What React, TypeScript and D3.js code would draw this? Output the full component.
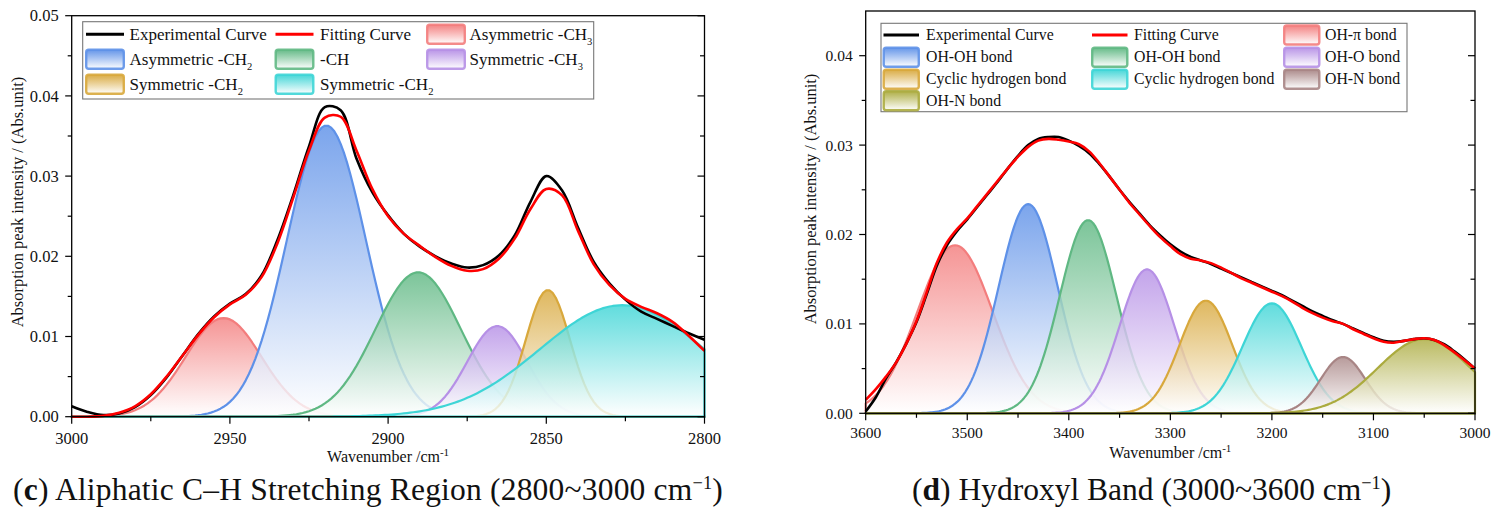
import React from "react";
import * as d3 from "d3";

const FONT = '"Liberation Serif", "Times New Roman", Times, serif';

// ---------------- Panel (c): Aliphatic C–H stretching ----------------
const cWavenumbers = [
  3000, 2995, 2990, 2985, 2980, 2975, 2970, 2965, 2960, 2955, 2950, 2945, 2940, 2935,
  2930, 2925, 2920, 2915, 2910, 2905, 2900, 2895, 2890, 2885, 2880, 2875, 2870, 2865,
  2860, 2855, 2850, 2845, 2840, 2835, 2830, 2825, 2820, 2815, 2810, 2805, 2800,
];
const cExperimental = [
  0.0013, 0.0006, 0.0002, 0.0004, 0.0012, 0.0027, 0.0049, 0.0076, 0.0103, 0.0125, 0.0141,
  0.0153, 0.0176, 0.022, 0.0276, 0.0337, 0.0386, 0.0382, 0.0322, 0.028, 0.0251, 0.0228,
  0.0212, 0.02, 0.0191, 0.0186, 0.0189, 0.0201, 0.0226, 0.0268, 0.03, 0.0282, 0.0236,
  0.0193, 0.0166, 0.0146, 0.0131, 0.0122, 0.0113, 0.0104, 0.0096,
];
const cFitting = [
  0.0, 0.0, 0.0001, 0.0005, 0.0013, 0.0028, 0.005, 0.0076, 0.0102, 0.0124, 0.014, 0.0152,
  0.0174, 0.0216, 0.0273, 0.0332, 0.0373, 0.0374, 0.0332, 0.0284, 0.025, 0.0228, 0.0213,
  0.0199, 0.0188, 0.0182, 0.0184, 0.0197, 0.0222, 0.0259, 0.0284, 0.0276, 0.0232, 0.019,
  0.0164, 0.0147, 0.0137, 0.0129, 0.0118, 0.0101, 0.0082,
];
const cPeakNames = [
  "Asymmetric -CH₃",
  "Asymmetric -CH₂",
  "-CH",
  "Symmetric -CH₃",
  "Symmetric -CH₂",
  "Symmetric -CH₂",
];
const cPeakCenters = [2952, 2919.5, 2890.5, 2865.5, 2849.5, 2826];
const cPeakHeights = [0.0123, 0.0363, 0.018, 0.0113, 0.0158, 0.0139];
const cPeakSigmas = [12, 12.5, 13.5, 9.5, 7, 26];
const cXTicks = [3000, 2950, 2900, 2850, 2800];
const cYTicks = [0, 0.01, 0.02, 0.03, 0.04, 0.05];

// ---------------- Panel (d): Hydroxyl band ----------------
const dWavenumbers = [
  3600, 3590, 3580, 3570, 3560, 3550, 3540, 3530, 3520, 3510, 3500, 3490, 3480, 3470, 3460,
  3450, 3440, 3430, 3420, 3410, 3400, 3390, 3380, 3370, 3360, 3350, 3340, 3330, 3320, 3310,
  3300, 3290, 3280, 3270, 3260, 3250, 3240, 3230, 3220, 3210, 3200, 3190, 3180, 3170, 3160,
  3150, 3140, 3130, 3120, 3110, 3100, 3090, 3080, 3070, 3060, 3050, 3040, 3030, 3020, 3010,
  3000,
];
const dExperimental = [
  0.0002, 0.0018, 0.0039, 0.0057, 0.0078, 0.0102, 0.0133, 0.0165, 0.0188, 0.0204, 0.0217,
  0.0231, 0.0245, 0.0259, 0.0274, 0.0288, 0.03, 0.0307, 0.0309, 0.0309, 0.0305, 0.0299,
  0.0291, 0.0279, 0.0265, 0.025, 0.0236, 0.0223, 0.021, 0.0199, 0.0189, 0.0181, 0.0175,
  0.0171, 0.0167, 0.0162, 0.0157, 0.0152, 0.0147, 0.0142, 0.0137, 0.0132, 0.0126, 0.012,
  0.0114, 0.0109, 0.0104, 0.01, 0.0095, 0.009, 0.0085, 0.0081, 0.008, 0.0081, 0.0083,
  0.0084, 0.0082, 0.0077, 0.0069, 0.006, 0.005,
];
const dFitting = [
  0.0015, 0.0027, 0.0041, 0.0057, 0.0078, 0.0103, 0.0135, 0.0168, 0.0191, 0.0206, 0.0218,
  0.0232, 0.0246, 0.026, 0.0274, 0.0287, 0.0298, 0.0305, 0.0307, 0.0306, 0.0304, 0.0301,
  0.0293, 0.028, 0.0265, 0.025, 0.0235, 0.0222, 0.0209, 0.0197, 0.0187, 0.0178, 0.0173,
  0.0171, 0.0168, 0.0163, 0.0157, 0.0151, 0.0146, 0.0141, 0.0136, 0.0131, 0.0125, 0.0118,
  0.0112, 0.0107, 0.0103, 0.01, 0.0094, 0.0089, 0.0084, 0.008, 0.0079, 0.0081, 0.0083,
  0.0084, 0.0082, 0.0076, 0.0068, 0.0059, 0.005,
];
const dPeakNames = [
  "OH-π bond",
  "OH-OH bond",
  "OH-OH bond",
  "OH-O bond",
  "Cyclic hydrogen bond",
  "Cyclic hydrogen bond",
  "OH-N bond",
  "OH-N bond",
];
const dPeakCenters = [3512, 3440, 3381, 3323, 3265, 3200, 3130, 3050];
const dPeakHeights = [0.0188, 0.0234, 0.0216, 0.0161, 0.0126, 0.0123, 0.0063, 0.0083];
const dPeakSigmas = [37, 29, 28, 27, 26, 29, 22, 46];
const dXTicks = [3600, 3500, 3400, 3300, 3200, 3100, 3000];
const dYTicks = [0, 0.01, 0.02, 0.03, 0.04];

const SERIES_NAMES = ["Experimental Curve", "Fitting Curve"];

// ---------------- styles ----------------
const cPeakColors = ["#F37D7D", "#5E91E8", "#5FB883", "#B690E6", "#D8A83C", "#3ED5D6"];
const dPeakColors = [
  "#F37D7D",
  "#5E91E8",
  "#5FB883",
  "#B690E6",
  "#D8A83C",
  "#3ED5D6",
  "#A88585",
  "#ABAB3E",
];

type Legend = {
  box: [number, number, number, number];
  rows: number[];
  swX: number[];
  swW: number;
  swH: number;
  textX: number[];
  font: number;
};

type PanelCfg = {
  id: string;
  wStart: number;
  wEnd: number;
  step: number;
  yMax: number;
  plot: { x0: number; x1: number; y0: number; y1: number };
  xTicks: number[];
  yTicks: number[];
  tickFont: number;
  xLabelDy: number;
  xTitleDy: number;
  yLabelGap: number;
  yTitle: { x: number; y: number; font: number };
  waves: number[];
  experimental: number[];
  fitting: number[];
  names: string[];
  centers: number[];
  heights: number[];
  sigmas: number[];
  colors: string[];
  legend: Legend;
  caption: { x: number; y: number; letter: string; text: string; font: number; spacing: number };
};

const SUBS: Record<string, string> = { "₂": "2", "₃": "3" };

function LabelText({ text, x, y, size }: { text: string; x: number; y: number; size: number }) {
  const last = text.slice(-1);
  if (SUBS[last]) {
    return (
      <text x={x} y={y} fontSize={size} fontFamily={FONT} fill="#111">
        {text.slice(0, -1)}
        <tspan dy={size * 0.3} fontSize={size * 0.62}>
          {SUBS[last]}
        </tspan>
      </text>
    );
  }
  return (
    <text x={x} y={y} fontSize={size} fontFamily={FONT} fill="#111">
      {text}
    </text>
  );
}

function Panel({ cfg }: { cfg: PanelCfg }) {
  const { plot } = cfg;
  const x = d3.scaleLinear().domain([cfg.wStart, cfg.wEnd]).range([plot.x0, plot.x1]);
  const y = d3.scaleLinear().domain([0, cfg.yMax]).range([plot.y1, plot.y0]);
  const n = Math.round(Math.abs(cfg.wStart - cfg.wEnd) / cfg.step);
  const grid = d3.range(0, n + 1).map((i) => cfg.wStart - i * cfg.step);

  const area = d3
    .area<[number, number]>()
    .x((d) => x(d[0]))
    .y0(y(0))
    .y1((d) => y(d[1]));
  const line = d3
    .line<[number, number]>()
    .x((d) => x(d[0]))
    .y((d) => y(d[1]))
    .curve(d3.curveCatmullRom.alpha(0.5));

  const peaks = cfg.centers.map((c, i) => {
    const h = cfg.heights[i];
    const s = cfg.sigmas[i];
    return grid.map((w) => [w, h * Math.exp(-((w - c) * (w - c)) / (2 * s * s))] as [number, number]);
  });
  const expPts = cfg.waves.map((w, i) => [w, cfg.experimental[i]] as [number, number]);
  const fitPts = cfg.waves.map((w, i) => [w, cfg.fitting[i]] as [number, number]);

  const yStep = cfg.yTicks[1] - cfg.yTicks[0];
  const yMinor = cfg.yTicks.map((t) => t + yStep / 2).filter((t) => t < cfg.yMax - 1e-9);
  const xStep = cfg.xTicks[0] - cfg.xTicks[1];
  const xMinor = cfg.xTicks.slice(0, -1).map((t) => t - xStep / 2);
  const fmt = d3.format(".2f");

  const lg = cfg.legend;
  const entries = [
    ...SERIES_NAMES.map((name, i) => ({ name, kind: "line", color: i === 0 ? "#000" : "#ff0000", idx: -1 })),
    ...cfg.names.map((name, i) => ({ name, kind: "swatch", color: cfg.colors[i], idx: i })),
  ];

  return (
    <g>
      <defs>
        {cfg.colors.map((col, i) => (
          <linearGradient key={i} id={`${cfg.id}-g${i}`} x1="0" y1="0" x2="0" y2="1">
            <stop offset="0" stopColor={col} stopOpacity={0.82} />
            <stop offset="1" stopColor="#ffffff" stopOpacity={0.82} />
          </linearGradient>
        ))}
        {cfg.colors.map((col, i) => (
          <linearGradient key={`l${i}`} id={`${cfg.id}-lg${i}`} x1="0" y1="0" x2="0" y2="1">
            <stop offset="0" stopColor={col} stopOpacity={0.95} />
            <stop offset="1" stopColor="#ffffff" stopOpacity={1} />
          </linearGradient>
        ))}
      </defs>

      {peaks.map((pts, i) => (
        <path
          key={i}
          d={area(pts) || ""}
          fill={`url(#${cfg.id}-g${i})`}
          stroke={cfg.colors[i]}
          strokeWidth={2.2}
          strokeLinejoin="round"
        />
      ))}

      <path d={line(expPts) || ""} fill="none" stroke="#000" strokeWidth={2.6} />
      <path d={line(fitPts) || ""} fill="none" stroke="#ff0000" strokeWidth={2.6} />

      {/* frame */}
      <rect
        x={plot.x0}
        y={plot.y0}
        width={plot.x1 - plot.x0}
        height={plot.y1 - plot.y0}
        fill="none"
        stroke="#000"
        strokeWidth={1.3}
      />

      {/* y ticks */}
      {cfg.yTicks.map((t) => (
        <g key={`y${t}`}>
          <line x1={plot.x0 - 6.5} x2={plot.x0} y1={y(t)} y2={y(t)} stroke="#000" strokeWidth={1.2} />
          <line x1={plot.x1 - 7} x2={plot.x1} y1={y(t)} y2={y(t)} stroke="#000" strokeWidth={1.2} />
          <text
            x={plot.x0 - cfg.yLabelGap}
            y={y(t)}
            dy="0.35em"
            textAnchor="end"
            fontSize={cfg.tickFont}
            fontFamily={FONT}
            fill="#111"
          >
            {fmt(t)}
          </text>
        </g>
      ))}
      {yMinor.map((t) => (
        <g key={`ym${t}`}>
          <line x1={plot.x0 - 4} x2={plot.x0} y1={y(t)} y2={y(t)} stroke="#000" strokeWidth={1.2} />
          <line x1={plot.x1 - 4.5} x2={plot.x1} y1={y(t)} y2={y(t)} stroke="#000" strokeWidth={1.2} />
        </g>
      ))}

      {/* x ticks */}
      {cfg.xTicks.map((t) => (
        <g key={`x${t}`}>
          <line x1={x(t)} x2={x(t)} y1={plot.y1} y2={plot.y1 + 7} stroke="#000" strokeWidth={1.2} />
          <text
            x={x(t)}
            y={plot.y1 + cfg.xLabelDy}
            textAnchor="middle"
            fontSize={cfg.tickFont}
            fontFamily={FONT}
            fill="#111"
          >
            {t}
          </text>
        </g>
      ))}
      {xMinor.map((t) => (
        <line key={`xm${t}`} x1={x(t)} x2={x(t)} y1={plot.y1} y2={plot.y1 + 4.5} stroke="#000" strokeWidth={1.2} />
      ))}

      {/* axis titles */}
      <text
        x={(plot.x0 + plot.x1) / 2}
        y={plot.y1 + cfg.xTitleDy}
        textAnchor="middle"
        fontSize={16}
        fontFamily={FONT}
        fill="#111"
      >
        Wavenumber /cm
        <tspan dy={-6} fontSize={11}>
          -1
        </tspan>
      </text>
      <text
        transform={`translate(${cfg.yTitle.x},${cfg.yTitle.y}) rotate(-90)`}
        textAnchor="middle"
        fontSize={cfg.yTitle.font}
        fontFamily={FONT}
        fill="#111"
      >
        Absorption peak intensity / (Abs.unit)
      </text>

      {/* legend */}
      <rect
        x={lg.box[0]}
        y={lg.box[1]}
        width={lg.box[2]}
        height={lg.box[3]}
        fill="#fff"
        stroke="#777"
        strokeWidth={1.1}
      />
      {entries.map((e, k) => {
        const row = Math.floor(k / 3);
        const col = k % 3;
        const cy = lg.rows[row];
        const sx = lg.swX[col];
        return (
          <g key={`lg${k}`}>
            {e.kind === "line" ? (
              <line x1={sx + 1} x2={sx + lg.swW - 1} y1={cy} y2={cy} stroke={e.color} strokeWidth={3} />
            ) : (
              <rect
                x={sx + 1.2}
                y={cy - lg.swH / 2}
                width={lg.swW - 2.4}
                height={lg.swH}
                rx={2.5}
                fill={`url(#${cfg.id}-lg${e.idx})`}
                stroke={e.color}
                strokeWidth={2.4}
                strokeOpacity={0.9}
              />
            )}
            <LabelText text={e.name} x={lg.textX[col]} y={cy + lg.font * 0.33} size={lg.font} />
          </g>
        );
      })}

      {/* caption */}
      <text
        x={cfg.caption.x}
        y={cfg.caption.y}
        fontSize={cfg.caption.font}
        fontFamily={FONT}
        letterSpacing={cfg.caption.spacing}
        fill="#111"
      >
        (<tspan fontWeight="bold">{cfg.caption.letter}</tspan>) {cfg.caption.text}
        <tspan dy={-cfg.caption.font * 0.36} fontSize={cfg.caption.font * 0.58}>
          −1
        </tspan>
        <tspan dy={cfg.caption.font * 0.36}>)</tspan>
      </text>
    </g>
  );
}

const panelC: PanelCfg = {
  id: "pc",
  wStart: 3000,
  wEnd: 2800,
  step: 1,
  yMax: 0.05,
  plot: { x0: 71.7, x1: 704.5, y0: 15.7, y1: 416.7 },
  xTicks: cXTicks,
  yTicks: cYTicks,
  tickFont: 16.5,
  xLabelDy: 27,
  xTitleDy: 45.5,
  yLabelGap: 13,
  yTitle: { x: 23, y: 202, font: 16.5 },
  waves: cWavenumbers,
  experimental: cExperimental,
  fitting: cFitting,
  names: cPeakNames,
  centers: cPeakCenters,
  heights: cPeakHeights,
  sigmas: cPeakSigmas,
  colors: cPeakColors,
  legend: {
    box: [82.7, 21.7, 511, 77.3],
    rows: [34.3, 59.3, 84.3],
    swX: [85, 274.5, 426],
    swW: 40,
    swH: 19,
    textX: [129.5, 320, 469.5],
    font: 17,
  },
  caption: {
    x: 13,
    y: 500,
    letter: "c",
    text: "Aliphatic C–H Stretching Region (2800~3000 cm",
    font: 31.5,
    spacing: 0.2,
  },
};

const panelD: PanelCfg = {
  id: "pd",
  wStart: 3600,
  wEnd: 3000,
  step: 2,
  yMax: 0.045,
  plot: { x0: 865.7, x1: 1475, y0: 11, y1: 413.3 },
  xTicks: dXTicks,
  yTicks: dYTicks,
  tickFont: 15.5,
  xLabelDy: 25,
  xTitleDy: 45,
  yLabelGap: 13,
  yTitle: { x: 816, y: 199, font: 16.5 },
  waves: dWavenumbers,
  experimental: dExperimental,
  fitting: dFitting,
  names: dPeakNames,
  centers: dPeakCenters,
  heights: dPeakHeights,
  sigmas: dPeakSigmas,
  colors: dPeakColors,
  legend: {
    box: [881, 23.3, 526, 88.4],
    rows: [35, 57.2, 79.2, 100.8],
    swX: [882.5, 1091, 1283],
    swW: 37.5,
    swH: 19,
    textX: [926, 1134, 1325],
    font: 15.8,
  },
  caption: {
    x: 912,
    y: 500,
    letter: "d",
    text: "Hydroxyl Band (3000~3600 cm",
    font: 31.5,
    spacing: 0,
  },
};

export default function App() {
  return (
    <svg
      width={1499}
      height={517}
      viewBox="0 0 1499 517"
      style={{ position: "absolute", left: 0, top: 0, background: "#fff" }}
    >
      <rect x={0} y={0} width={1499} height={517} fill="#fff" />
      <Panel cfg={panelC} />
      <Panel cfg={panelD} />
    </svg>
  );
}
